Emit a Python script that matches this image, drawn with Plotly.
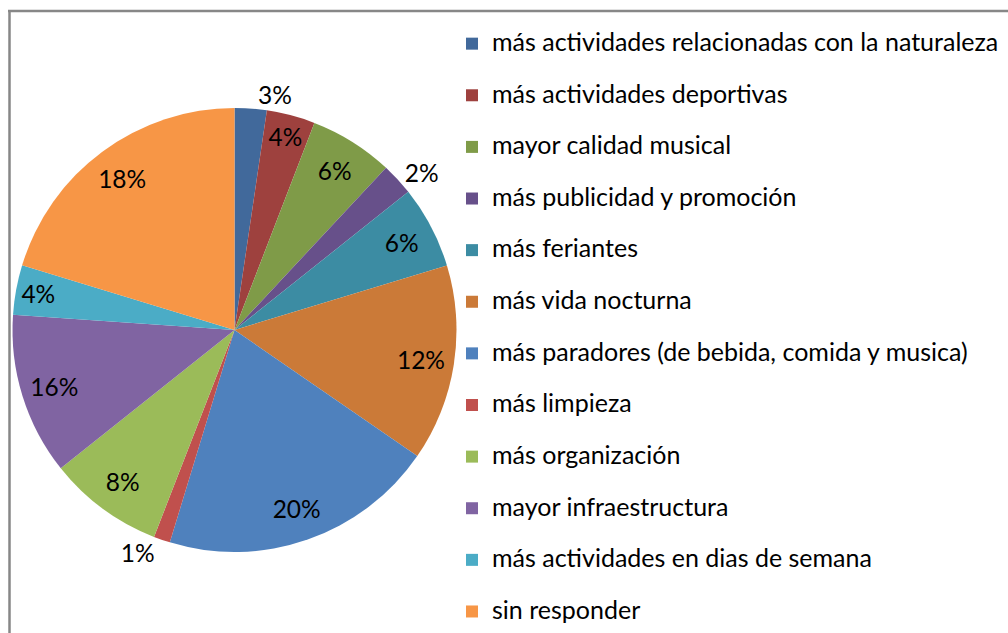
import plotly.graph_objects as go

categories = [
    "más actividades relacionadas con la naturaleza",
    "más actividades deportivas",
    "mayor calidad musical",
    "más publicidad y promoción",
    "más feriantes",
    "más vida nocturna",
    "más paradores (de bebida, comida y musica)",
    "más limpieza",
    "más organización",
    "mayor infraestructura",
    "más actividades en dias de semana",
    "sin responder",
]
# slice sizes (percent of the circle)
values = [2.33, 3.53, 6.1, 2.35, 6.0, 14.3, 20.1, 1.2, 8.4, 11.8, 3.6, 20.3]
# percentage labels as printed on the chart
value_labels = ["3%", "4%", "6%", "2%", "6%", "12%", "20%", "1%", "8%", "16%", "4%", "18%"]
label_positions = ["outside", "inside", "inside", "outside", "inside", "inside",
                   "inside", "outside", "inside", "inside", "inside", "inside"]
colors = ["#41699B", "#9E413E", "#7F9B48", "#67508A", "#3C8CA3", "#CB7A38",
          "#4F81BD", "#C0504D", "#9BBB59", "#8064A2", "#4BACC6", "#F79646"]

FONT = "Lato"
W, H = 1008, 633
cx, cy, R = 234.5, 330.0, 222.0

# legend entries: an extra blank line gives the tall row spacing of the original
legend_labels = [
    f"<span style='font-size:25px'>{c}</span>" + ("<br> " if i < len(categories) - 1 else "")
    for i, c in enumerate(categories)
]

dom_x = [(cx - R) / W, (cx + R) / W]
dom_y = [1 - (cy + R) / H, 1 - (cy - R) / H]

fig = go.Figure()
fig.add_trace(go.Pie(
    labels=legend_labels,
    values=values,
    sort=False,
    direction="clockwise",
    rotation=0,
    marker=dict(colors=colors, line=dict(width=0)),
    textinfo="none",
    domain=dict(x=dom_x, y=dom_y),
    hoverinfo="skip",
    showlegend=True,
))
fig.add_trace(go.Pie(
    labels=legend_labels,
    values=values,
    sort=False,
    direction="clockwise",
    rotation=0,
    hole=0.7,
    marker=dict(colors=["rgba(0,0,0,0)"] * len(values), line=dict(width=0)),
    text=value_labels,
    textinfo="text",
    textposition=label_positions,
    insidetextorientation="horizontal",
    textfont=dict(family=FONT, size=24.5, color="#000000"),
    domain=dict(x=dom_x, y=dom_y),
    hoverinfo="skip",
    showlegend=False,
))

fig.update_layout(
    width=W, height=H,
    margin=dict(l=0, r=0, t=0, b=0),
    paper_bgcolor="white",
    plot_bgcolor="white",
    font=dict(family=FONT, color="#000000"),
    legend=dict(
        x=452 / W, xanchor="left",
        y=1 - 25 / H, yanchor="top",
        font=dict(family=FONT, size=18.7, color="#000000"),
        valign="top",
        bgcolor="rgba(0,0,0,0)",
        traceorder="normal",
    ),
    shapes=[
        dict(type="line", xref="paper", yref="paper",
             x0=8 / W, x1=1.0, y0=1 - 11 / H, y1=1 - 11 / H,
             line=dict(color="#878787", width=2.5)),
        dict(type="line", xref="paper", yref="paper",
             x0=9.5 / W, x1=9.5 / W, y0=0, y1=1 - 10 / H,
             line=dict(color="#878787", width=2.5)),
    ],
)

fig.write_html(
    "out.html",
    config={"displayModeBar": False},
    post_script="document.body.style.margin='0';document.body.style.overflow='hidden';",
)
